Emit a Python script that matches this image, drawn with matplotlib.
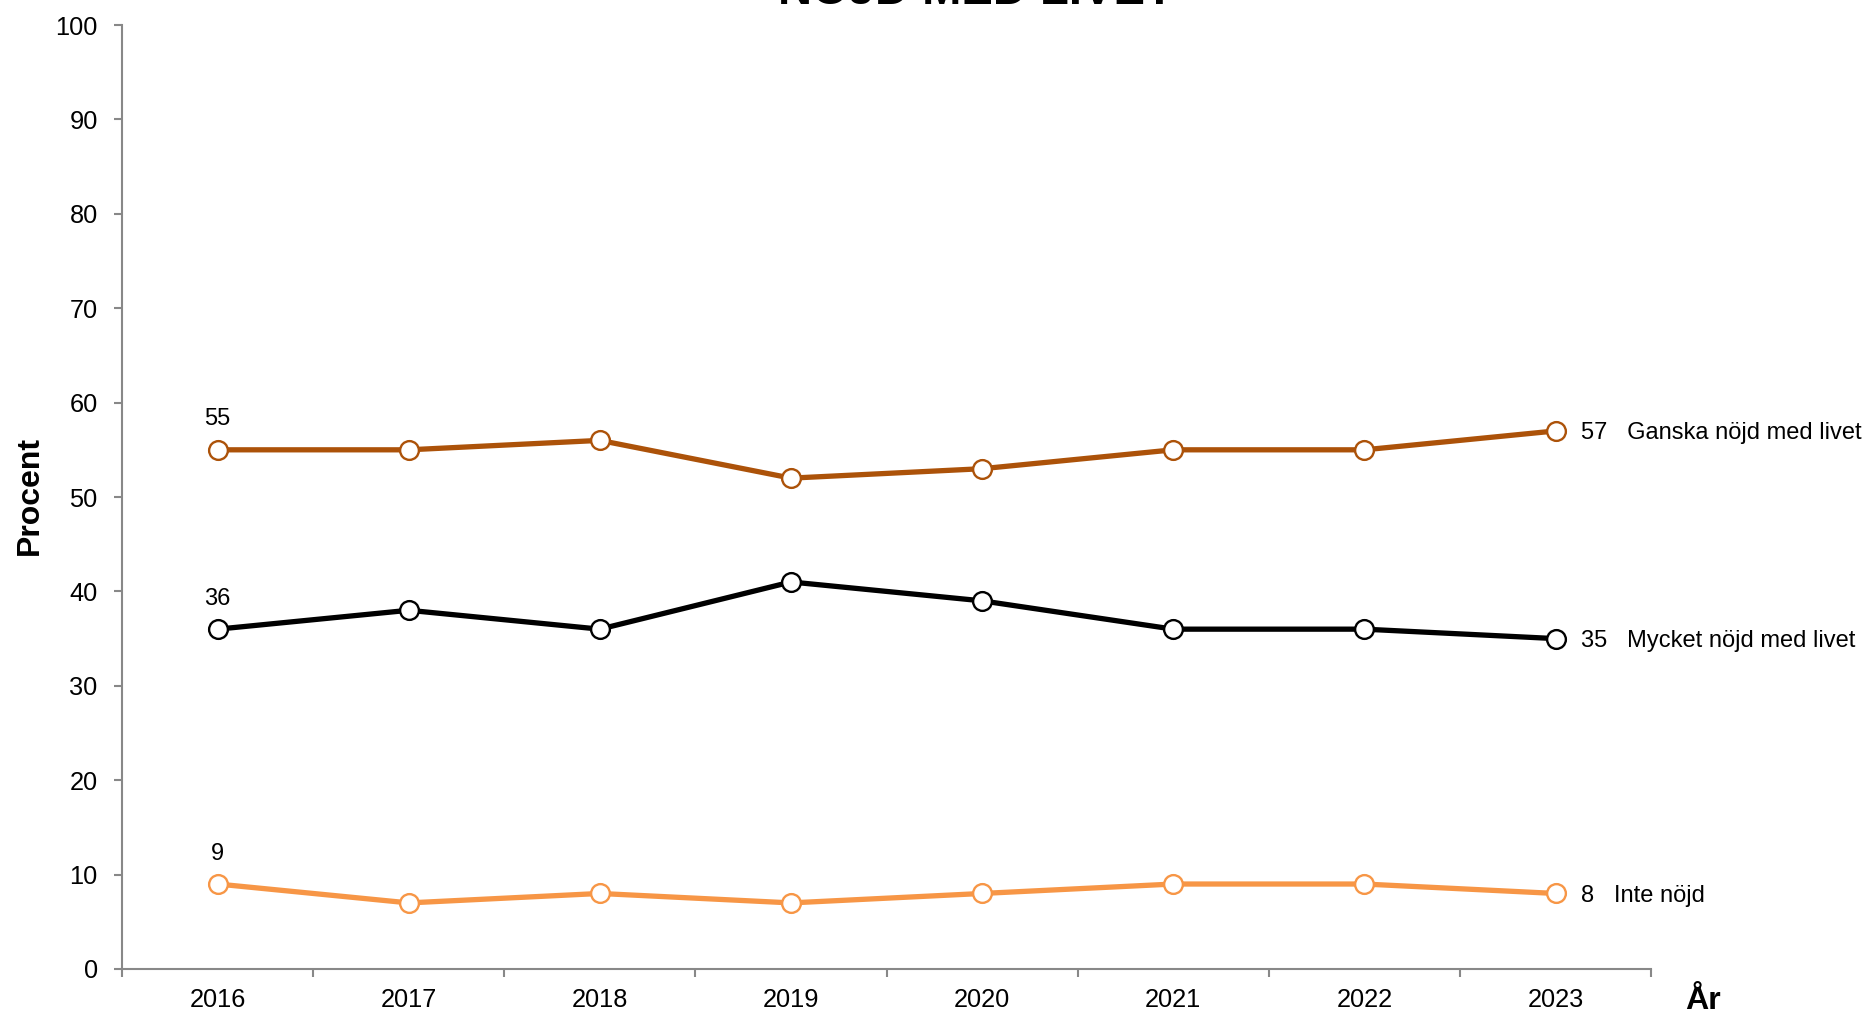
import matplotlib
matplotlib.use("Agg")
import matplotlib.pyplot as plt

plt.rcParams['font.family'] = ['Liberation Sans', 'DejaVu Sans']

years = ["2016", "2017", "2018", "2019", "2020", "2021", "2022", "2023"]
ganska = [55, 55, 56, 52, 53, 55, 55, 57]
mycket = [36, 38, 36, 41, 39, 36, 36, 35]
inte = [9, 7, 8, 7, 8, 9, 9, 8]

series = [
    ("Ganska nöjd med livet", ganska, "#AC5209"),
    ("Mycket nöjd med livet", mycket, "#000000"),
    ("Inte nöjd", inte, "#F79646"),
]

TICK_FS = 18.3
LABEL_FS = 17.0

fig = plt.figure(figsize=(18.69, 10.14), dpi=100)
ax = fig.add_axes([0.0653, 0.0444, 0.8181, 0.9309])

x = list(range(len(years)))
for name, vals, col in series:
    ax.plot(x, vals, color=col, lw=3.8, marker="o", ms=13.5,
            mfc="white", mec=col, mew=1.7, zorder=3)
    ax.annotate(str(vals[0]), (x[0], vals[0]), xytext=(0, 14),
                textcoords="offset points", ha="center", va="bottom",
                fontsize=LABEL_FS)
    ax.annotate(f"{vals[-1]}   {name}", (x[-1], vals[-1]), xytext=(18, 0),
                textcoords="offset points", ha="left", va="center_baseline",
                fontsize=LABEL_FS, annotation_clip=False)

ax.set_xlim(-0.5, len(years) - 0.5)
ax.set_ylim(0, 100)
ax.set_yticks(range(0, 101, 10))
ax.set_xticks([i - 0.5 for i in range(len(years) + 1)])
ax.set_xticklabels([])
ax.set_xticks(x, minor=True)
ax.set_xticklabels(years, minor=True)
ax.tick_params(axis="x", which="minor", length=0, pad=14, labelsize=TICK_FS)
ax.tick_params(axis="x", which="major", length=6, width=1.5, color="#888888")
ax.tick_params(axis="y", length=6, width=1.5, color="#888888",
               labelsize=TICK_FS, pad=11.5)

for s in ["top", "right"]:
    ax.spines[s].set_visible(False)
for s in ["left", "bottom"]:
    ax.spines[s].set_color("#888888")
    ax.spines[s].set_linewidth(1.5)

fig.text(0.016, 0.511, "Procent", fontsize=23, fontweight="bold",
         rotation=90, ha="center", va="center")
fig.text(0.911, 0.005, "År", fontsize=23, fontweight="bold",
         ha="center", va="baseline")
fig.text(0.522, 0.986, "NÖJD MED LIVET", fontsize=34, fontweight="bold",
         ha="center", va="bottom")

fig.savefig("out.png", dpi=100)
